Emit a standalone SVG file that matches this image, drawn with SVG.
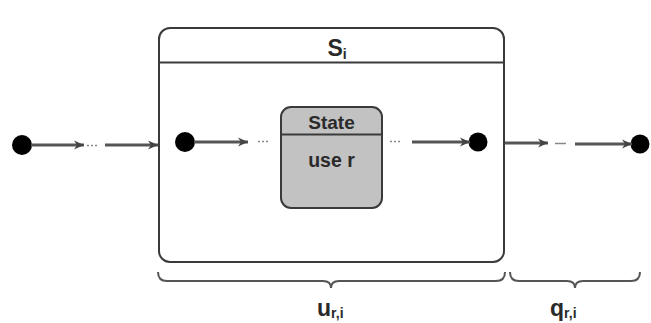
<svg xmlns="http://www.w3.org/2000/svg" width="651" height="323" viewBox="0 0 651 323">
<style>
.box{fill:#fff;stroke:#3a3a3a;stroke-width:2}
.st{fill:#c2c2c2;stroke:#3a3a3a;stroke-width:2}
.sep{stroke:#3a3a3a;stroke-width:2}
.dot{fill:#000}
.arr{stroke:#555;stroke-width:3;fill:none;marker-end:url(#ah)}
.gap{stroke:#888;stroke-width:1.5;fill:none}
.brace{stroke:#555;stroke-width:2;fill:none}
text{font-family:"Liberation Sans",Arial,sans-serif;font-weight:bold;fill:#2a2a2a}
</style>
<defs>
<marker id="ah" markerUnits="userSpaceOnUse" markerWidth="11" markerHeight="10" refX="10" refY="5" orient="auto">
<path d="M0,0.5 L10,5 L0,9.5 L3,5 Z" fill="#444"/>
</marker>
</defs>
<rect width="651" height="323" fill="#fff"/>
<g id="composite">
<rect class="box" x="159" y="28" width="345" height="234" rx="11"/>
<line class="sep" x1="159" y1="62.5" x2="504" y2="62.5"/>
<text x="337" y="56" font-size="23" text-anchor="middle">S<tspan font-size="14" dy="3">i</tspan></text>
</g>
<g id="state">
<rect class="st" x="281" y="107" width="101" height="101" rx="10"/>
<line class="sep" x1="281" y1="134.5" x2="382" y2="134.5"/>
<text x="331.5" y="128.5" font-size="19" text-anchor="middle">State</text>
<text x="331.5" y="167" font-size="19.5" text-anchor="middle">use r</text>
</g>
<g id="start-outer"><circle class="dot" cx="22" cy="145" r="10"/></g>
<g id="start-inner"><circle class="dot" cx="185" cy="142" r="10"/></g>
<g id="end-inner"><circle class="dot" cx="478" cy="142" r="9.5"/></g>
<g id="end-outer"><circle class="dot" cx="640" cy="144" r="9.5"/></g>
<g id="connectors">
<line class="arr" x1="31" y1="145" x2="84" y2="145"/>
<line class="gap" x1="87" y1="145.5" x2="97" y2="145.5" stroke-dasharray="2,2"/>
<line class="arr" x1="105" y1="145" x2="158" y2="145"/>
<line class="arr" x1="194" y1="142" x2="248" y2="142"/>
<line class="gap" x1="258" y1="141.5" x2="268" y2="141.5" stroke-dasharray="2,2"/>
<line class="gap" x1="390" y1="141.5" x2="400" y2="141.5" stroke-dasharray="2,2"/>
<line class="arr" x1="412" y1="142" x2="470" y2="142"/>
<line class="arr" x1="505" y1="143" x2="548" y2="143"/>
<line class="gap" x1="555" y1="143.5" x2="566" y2="143.5"/>
<line class="arr" x1="575" y1="144" x2="632" y2="144"/>
</g>
<g id="brace-u">
<path class="brace" d="M158,272 Q158,281 167,281 L323,281 Q331,281 331,288 Q331,281 339,281 L496,281 Q505,281 505,272"/>
<text x="317" y="316" font-size="23">u<tspan font-size="14" dy="2">r,i</tspan></text>
</g>
<g id="brace-q">
<path class="brace" d="M510,272 Q510,281 519,281 L567,281 Q575,281 575,288 Q575,281 583,281 L631,281 Q640,281 640,272"/>
<text x="550" y="316" font-size="23">q<tspan font-size="14" dy="2">r,i</tspan></text>
</g>
</svg>
